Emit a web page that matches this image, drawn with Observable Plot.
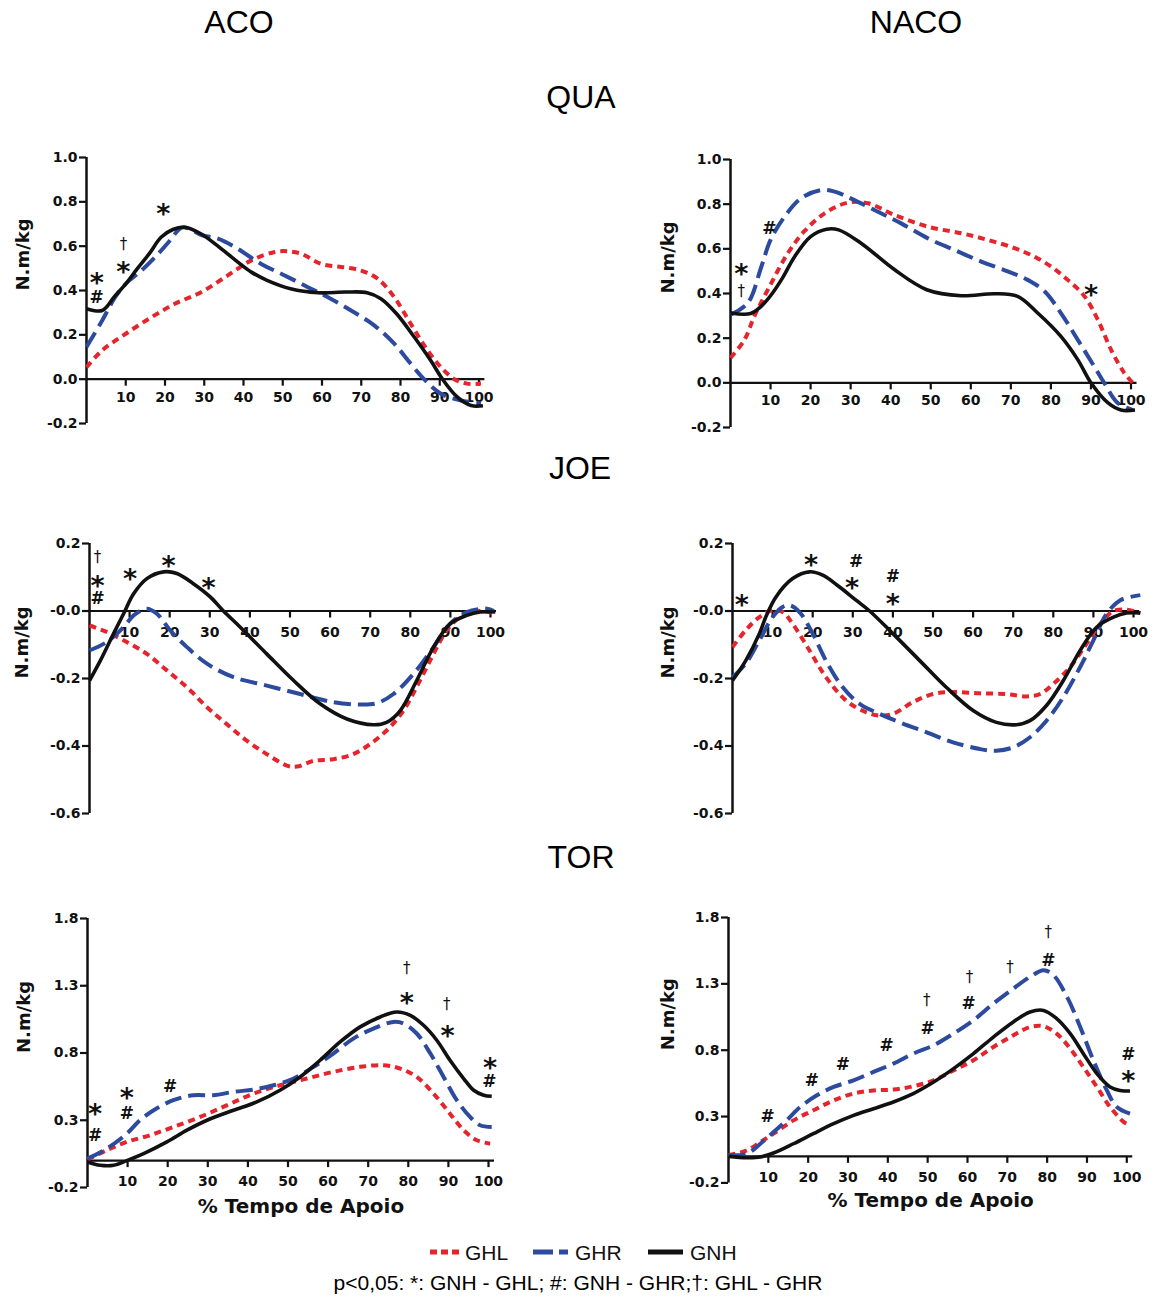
<!DOCTYPE html>
<html><head><meta charset="utf-8">
<script src="https://cdn.jsdelivr.net/npm/d3@7"></script>
<script src="https://cdn.jsdelivr.net/npm/@observablehq/plot@0.6"></script>
<style>
body{margin:0;background:#fff;}
#page{position:relative;width:1157px;height:1297px;overflow:hidden;font-family:"Liberation Sans",Arial,sans-serif;color:#000;}
.head{position:absolute;font-size:32px;transform:translate(-50%,-50%);white-space:nowrap;}
.panel{position:absolute;}
.cap{position:absolute;font-size:21px;transform:translate(-50%,-50%);white-space:nowrap;}
</style></head><body><div id="page"></div>
<script>
// ---------- data ----------
const seriesNames = ["GHL", "GHR", "GNH"];
const columnTitles = ["ACO", "NACO"];
const rowTitles = ["QUA", "JOE", "TOR"];
const xTitle = "% Tempo de Apoio";
const yTitle = "N.m/kg";
const caption = "p<0,05: *: GNH - GHL; #: GNH - GHR;†: GHL - GHR";

const xTicks = [10, 20, 30, 40, 50, 60, 70, 80, 90, 100];
const xTickLabels = ["10", "20", "30", "40", "50", "60", "70", "80", "90", "100"];
const quaTicks = [1.0, 0.8, 0.6, 0.4, 0.2, 0.0, -0.2];
const quaTickLabels = ["1.0", "0.8", "0.6", "0.4", "0.2", "0.0", "-0.2"];
const joeTicks = [0.2, 0.0, -0.2, -0.4, -0.6];
const joeTickLabels = ["0.2", "-0.0", "-0.2", "-0.4", "-0.6"];
const torTicks = [1.8, 1.3, 0.8, 0.3, -0.2];
const torTickLabels = ["1.8", "1.3", "0.8", "0.3", "-0.2"];

// ACO - QUA
const acoQuaGHL = [[0,0.054],[4,0.13],[10,0.205],[16.6,0.28],[22.5,0.34],[29.3,0.393],[36,0.468],[42,0.536],[48,0.574],[51.3,0.577],[54.7,0.566],[59.8,0.52],[65,0.506],[70,0.49],[74.2,0.453],[78.4,0.37],[82.6,0.25],[86.9,0.13],[90.3,0.054],[93.7,0.0],[97,-0.02],[100.5,-0.02]];
const acoQuaGHR = [[0,0.145],[4,0.265],[7.3,0.37],[10,0.43],[14,0.49],[18.3,0.566],[21,0.62],[24.2,0.684],[26,0.68],[29.3,0.65],[33.5,0.634],[37.8,0.596],[44.5,0.52],[50.5,0.468],[56.4,0.415],[61.5,0.37],[67.4,0.31],[73.3,0.243],[78.4,0.16],[82.6,0.07],[86,0.0],[90.3,-0.066],[95.4,-0.096],[100.5,-0.11]];
const acoQuaGNH = [[0,0.318],[4,0.31],[7,0.37],[10,0.43],[13,0.5],[16,0.566],[19,0.64],[22,0.675],[25,0.685],[29,0.657],[33.5,0.6],[38,0.536],[42,0.483],[46,0.446],[52,0.408],[59,0.39],[66,0.393],[71.5,0.39],[75,0.363],[79,0.295],[83.5,0.19],[87.7,0.084],[90.7,0.0],[94.5,-0.081],[98,-0.119],[101,-0.12]];
const acoQuaSig = [{x:2.6,y:0.46,s:"*"},{x:2.6,y:0.37,s:"#"},{x:9.4,y:0.61,s:"†"},{x:9.4,y:0.51,s:"*"},{x:19.6,y:0.77,s:"*"}];

// NACO - QUA
const nacoQuaGHL = [[0,0.112],[3.5,0.193],[6,0.3],[10,0.44],[14.3,0.58],[18.5,0.68],[23.5,0.759],[29.3,0.807],[34.3,0.804],[41,0.751],[49.3,0.699],[57.6,0.67],[64.2,0.64],[70.9,0.603],[75.9,0.565],[80,0.521],[84.2,0.461],[88.4,0.387],[91.7,0.283],[95,0.149],[98.3,0.045],[100.8,-0.007]];
const nacoQuaGHR = [[0,0.305],[4.3,0.357],[7.7,0.52],[10,0.64],[13.5,0.744],[17.6,0.826],[22.6,0.863],[26,0.856],[30,0.826],[36.8,0.766],[42.6,0.714],[49.3,0.647],[55.9,0.595],[62.6,0.543],[69.2,0.499],[74.2,0.461],[78.4,0.41],[82.5,0.3125],[86.7,0.193],[90.8,0.074],[93.3,0.0],[96.7,-0.09],[100.5,-0.122]];
const nacoQuaGNH = [[0,0.3125],[5,0.31],[7.5,0.34],[10,0.39],[13,0.47],[16,0.565],[20,0.655],[24,0.688],[27,0.685],[32.6,0.625],[41,0.506],[49,0.417],[57.6,0.39],[66,0.399],[71.7,0.387],[76.7,0.3125],[82.5,0.208],[86.7,0.104],[90,0.0],[94.2,-0.089],[97.5,-0.122],[101,-0.122]];
const nacoQuaSig = [{x:2.7,y:0.513,s:"*"},{x:2.7,y:0.41,s:"†"},{x:9.7,y:0.69,s:"#"},{x:90,y:0.417,s:"*"}];

// ACO - JOE
const acoJoeGHL = [[0,-0.043],[4.3,-0.062],[9.3,-0.092],[14.3,-0.127],[19.3,-0.176],[24.3,-0.226],[29.3,-0.285],[34.2,-0.335],[39.2,-0.384],[44.2,-0.424],[49.2,-0.458],[51.7,-0.461],[55.9,-0.444],[60.8,-0.439],[65.8,-0.424],[70,-0.394],[74.1,-0.354],[78.3,-0.295],[82.4,-0.206],[85.8,-0.127],[89.1,-0.057],[92.4,-0.018],[95.8,0.0],[100.8,-0.006]];
const acoJoeGHR = [[0,-0.117],[4.3,-0.092],[8.5,-0.048],[11,-0.013],[14.3,0.007],[16.8,-0.008],[20.1,-0.057],[24.3,-0.107],[29.3,-0.156],[35.9,-0.196],[44.2,-0.221],[52.5,-0.246],[60.8,-0.27],[67.5,-0.277],[71.7,-0.273],[75.8,-0.246],[80.8,-0.186],[85.8,-0.107],[89.9,-0.038],[94.1,-0.003],[99.1,0.007],[100.8,0.0]];
const acoJoeGNH = [[0,-0.206],[2.7,-0.147],[6,-0.067],[8.5,-0.008],[11,0.051],[14.3,0.096],[18.5,0.116],[21.8,0.111],[25.9,0.081],[30.1,0.042],[33.4,0.0],[37.6,-0.048],[44.2,-0.127],[50.9,-0.206],[57.5,-0.275],[64.2,-0.32],[70.8,-0.337],[74.1,-0.33],[77.5,-0.295],[81.6,-0.206],[85.8,-0.107],[89.9,-0.038],[94.1,-0.013],[97.4,-0.003],[101.2,-0.003]];
const acoJoeSig = [{x:2,y:0.16,s:"†"},{x:2,y:0.091,s:"*"},{x:2,y:0.037,s:"#"},{x:10.1,y:0.111,s:"*"},{x:19.7,y:0.15,s:"*"},{x:29.7,y:0.086,s:"*"}];

// NACO - JOE
const nacoJoeGHL = [[0,-0.107],[3.3,-0.057],[6.7,-0.018],[10,0.002],[12.5,-0.003],[15,-0.038],[19.2,-0.117],[23.3,-0.196],[28.3,-0.265],[33.3,-0.3],[36.7,-0.31],[40,-0.305],[45,-0.27],[50,-0.246],[55,-0.24],[61.7,-0.244],[68.3,-0.246],[73.3,-0.253],[76.7,-0.246],[80,-0.216],[84.2,-0.166],[88.3,-0.097],[91.7,-0.038],[95,0.0],[98.3,0.004],[101.7,-0.006]];
const nacoJoeGHR = [[0,-0.196],[3.3,-0.156],[6.7,-0.087],[10,-0.018],[12.5,0.012],[14.2,0.017],[16.7,-0.003],[20,-0.067],[23.3,-0.147],[27.5,-0.226],[31.7,-0.275],[36.7,-0.305],[41.7,-0.33],[48.3,-0.359],[55,-0.389],[61.7,-0.409],[65.8,-0.414],[70,-0.404],[74.2,-0.374],[78.3,-0.325],[82.5,-0.255],[86.7,-0.166],[90,-0.087],[93.3,-0.008],[96.7,0.032],[101.7,0.047]];
const nacoJoeGNH = [[0,-0.206],[3.3,-0.147],[6.7,-0.067],[8.3,-0.018],[10.8,0.041],[15,0.096],[19.2,0.116],[22.5,0.106],[26.7,0.071],[30.8,0.032],[34.2,0.0],[40,-0.067],[46.7,-0.147],[53.3,-0.226],[60,-0.295],[65.8,-0.33],[70.8,-0.337],[74.2,-0.325],[78.3,-0.28],[82.5,-0.206],[86.7,-0.117],[90.8,-0.048],[95,-0.018],[98.3,-0.006],[101.7,-0.006]];
const nacoJoeSig = [{x:2.3,y:0.034,s:"*"},{x:19.6,y:0.152,s:"*"},{x:30.8,y:0.146,s:"#"},{x:29.8,y:0.086,s:"*"},{x:40,y:0.101,s:"#"},{x:40,y:0.037,s:"*"}];

// ACO - TOR
const acoTorGHL = [[0,0.007],[4.8,0.077],[9.8,0.139],[15.6,0.189],[21.4,0.25],[28.1,0.325],[34.7,0.411],[41.4,0.498],[48,0.56],[54.7,0.61],[61.3,0.66],[68,0.697],[73.8,0.709],[78,0.684],[82.1,0.622],[86.3,0.498],[90.4,0.349],[93.8,0.226],[97.1,0.151],[100.4,0.126]];
const acoTorGHR = [[0,0.015],[4.8,0.089],[9.8,0.2],[13.1,0.3],[16.5,0.374],[21.4,0.449],[26.4,0.486],[31.4,0.486],[36.4,0.511],[41.4,0.528],[46.4,0.56],[51.4,0.61],[56.4,0.697],[61.3,0.796],[66.3,0.907],[71.3,0.981],[76.3,1.031],[78.8,1.019],[82.1,0.945],[85.5,0.796],[88.8,0.622],[92.1,0.449],[95.4,0.325],[97.9,0.263],[100.8,0.25]];
const acoTorGNH = [[0,-0.01],[3.2,-0.035],[6.5,-0.035],[9.8,0.0],[14,0.052],[19.8,0.139],[24.8,0.226],[29.8,0.3],[36.4,0.374],[42.2,0.436],[48,0.523],[53,0.622],[58,0.746],[63,0.882],[68,0.994],[73,1.068],[77.1,1.105],[80.5,1.08],[83.8,1.006],[87.1,0.895],[90.4,0.746],[93.8,0.61],[96.3,0.523],[98.8,0.486],[100.8,0.478]];
const acoTorSig = [{x:1.9,y:0.387,s:"*"},{x:1.9,y:0.188,s:"#"},{x:9.8,y:0.511,s:"*"},{x:9.8,y:0.35,s:"#"},{x:20.6,y:0.548,s:"#"},{x:79.6,y:1.428,s:"†"},{x:79.6,y:1.217,s:"*"},{x:89.6,y:1.16,s:"†"},{x:89.8,y:0.97,s:"*"},{x:100.4,y:0.73,s:"*"},{x:100.2,y:0.59,s:"#"}];

// NACO - TOR
const nacoTorGHL = [[0,0.008],[4.6,0.045],[8,0.108],[11.3,0.171],[16.3,0.271],[21.3,0.347],[26.4,0.422],[31.4,0.473],[36.4,0.497],[41.4,0.503],[46.4,0.528],[51.5,0.573],[56.5,0.648],[61.5,0.724],[66.5,0.824],[71.5,0.912],[75.7,0.975],[79.1,0.98],[82.4,0.925],[85.8,0.812],[89.1,0.673],[92.5,0.523],[95.8,0.372],[99.2,0.26],[100,0.246]];
const nacoTorGHR = [[0,0.008],[4.6,0.02],[8,0.095],[11.3,0.183],[14.6,0.271],[18,0.372],[22.2,0.46],[26.4,0.523],[31.4,0.573],[36.4,0.636],[41.4,0.699],[46.4,0.774],[51.5,0.837],[56.5,0.925],[61.5,1.025],[66.5,1.151],[71.5,1.264],[75.7,1.352],[79.1,1.403],[81.6,1.365],[85,1.201],[88.3,0.975],[91.6,0.724],[95,0.497],[97.5,0.372],[100.8,0.322]];
const nacoTorGNH = [[0,0.0],[4.6,-0.01],[8,-0.005],[11.3,0.025],[16.3,0.095],[21.3,0.171],[26.4,0.246],[31.4,0.309],[36.4,0.359],[41.4,0.41],[46.4,0.473],[51.5,0.56],[56.5,0.661],[61.5,0.774],[66.5,0.899],[71.5,1.013],[75.7,1.088],[79.1,1.1],[82.4,1.038],[85.8,0.925],[89.1,0.774],[92.5,0.623],[95.8,0.523],[98.3,0.497],[100.8,0.492]];
const nacoTorSig = [{x:9.8,y:0.301,s:"#"},{x:20.9,y:0.573,s:"#"},{x:28.7,y:0.693,s:"#"},{x:39.7,y:0.837,s:"#"},{x:49.8,y:1.176,s:"†"},{x:50,y:0.962,s:"#"},{x:60.5,y:1.352,s:"†"},{x:60.3,y:1.151,s:"#"},{x:70.7,y:1.427,s:"†"},{x:80.3,y:1.69,s:"†"},{x:80.3,y:1.477,s:"#"},{x:100.4,y:0.769,s:"#"},{x:100.4,y:0.61,s:"*"}];

// ---------- styles ----------
const seriesStyle = {
  GHL: {stroke: "#e5242b", strokeWidth: 4, dash: "7,5"},
  GHR: {stroke: "#2c4a9e", strokeWidth: 4, dash: "17,7"},
  GNH: {stroke: "#111111", strokeWidth: 3.6, dash: null}
};
const boldFont = "DejaVu Sans, Verdana, sans-serif";

// ---------- layout ----------
const panels = [
  {frameX:[85.5,478], frameY:[157,423], yDomain:[-0.2,1.0], ticks:quaTicks, labels:quaTickLabels, dy:18, ylabX:22.5, data:{GHL:acoQuaGHL,GHR:acoQuaGHR,GNH:acoQuaGNH}, sig:acoQuaSig},
  {frameX:[729.5,1130], frameY:[159.3,427.3], yDomain:[-0.2,1.0], ticks:quaTicks, labels:quaTickLabels, dy:18, ylabX:667, data:{GHL:nacoQuaGHL,GHR:nacoQuaGHR,GNH:nacoQuaGNH}, sig:nacoQuaSig},
  {frameX:[89.3,490.3], frameY:[542.7,812.7], yDomain:[-0.6,0.2], ticks:joeTicks, labels:joeTickLabels, dy:22, ylabX:22.5, data:{GHL:acoJoeGHL,GHR:acoJoeGHR,GNH:acoJoeGNH}, sig:acoJoeSig},
  {frameX:[732,1133], frameY:[542.7,812.7], yDomain:[-0.6,0.2], ticks:joeTicks, labels:joeTickLabels, dy:22, ylabX:668, data:{GHL:nacoJoeGHL,GHR:nacoJoeGHR,GNH:nacoJoeGNH}, sig:nacoJoeSig},
  {frameX:[87.3,488.3], frameY:[918.3,1187.3], yDomain:[-0.2,1.8], ticks:torTicks, labels:torTickLabels, dy:21, ylabX:24, data:{GHL:acoTorGHL,GHR:acoTorGHR,GNH:acoTorGNH}, sig:acoTorSig, xt:{dx:13, dy:25}},
  {frameX:[728.3,1126.6], frameY:[917.3,1182.7], yDomain:[-0.2,1.8], ticks:torTicks, labels:torTickLabels, dy:21, ylabX:668, data:{GHL:nacoTorGHL,GHR:nacoTorGHR,GNH:nacoTorGNH}, sig:nacoTorSig, xt:{dx:3, dy:24}}
];

const page = document.getElementById("page");

function addDiv(cls, text, x, y) {
  const d = document.createElement("div");
  d.className = cls; d.textContent = text;
  d.style.left = x + "px"; d.style.top = y + "px";
  page.appendChild(d);
}
addDiv("head", columnTitles[0], 239, 22);
addDiv("head", columnTitles[1], 916, 22);
addDiv("head", rowTitles[0], 581, 97);
addDiv("head", rowTitles[1], 580, 468);
addDiv("head", rowTitles[2], 581, 857);

for (const p of panels) {
  const ml = 85, mr = 40, mt = 35, mb = 55;
  const [fx0, fx1] = p.frameX, [fy0, fy1] = p.frameY;
  const width = fx1 - fx0 + ml + mr;
  const height = fy1 - fy0 + mt + mb;
  const marks = [
    Plot.text(xTicks, {x: d => d, y: 0, dy: p.dy, text: (d, i) => xTickLabels[i], fontSize: 14, fontWeight: "bold", fontFamily: boldFont, fill: "#111"}),
    Plot.ruleY([0], {x1: 0, x2: 101.5, stroke: "#111", strokeWidth: 2.2}),
    Plot.ruleX(xTicks, {x: d => d, y1: 0, y2: 0, insetBottom: -7, stroke: "#111", strokeWidth: 2.2}),
    Plot.ruleX([0], {y1: p.yDomain[0], y2: p.yDomain[1], stroke: "#111", strokeWidth: 2.5}),
    Plot.axisY(p.ticks, {tickSize: 7, tickPadding: 2, strokeWidth: 2.2, stroke: "#111", tickFormat: d => p.labels[p.ticks.indexOf(d)], fontSize: 14, fontWeight: "bold", fontFamily: boldFont, label: null}),
    Plot.text([yTitle], {frameAnchor: "left", rotate: -90, dx: p.ylabX - fx0, fontSize: 18, fontWeight: "bold", fontFamily: boldFont, fill: "#111"})
  ];
  if (p.xt) marks.push(Plot.text([xTitle], {frameAnchor: "bottom", dx: p.xt.dx, dy: p.xt.dy, fontSize: 20, fontWeight: "bold", fontFamily: boldFont, fill: "#111"}));
  for (const name of seriesNames) {
    const st = seriesStyle[name];
    marks.push(Plot.line(p.data[name], {x: d => d[0], y: d => d[1], stroke: st.stroke, strokeWidth: st.strokeWidth, strokeDasharray: st.dash, curve: "catmull-rom", strokeLinecap: "butt", strokeLinejoin: "round"}));
  }
  marks.push(Plot.text(p.sig, {filter: d => d.s === "*", x: "x", y: "y", text: "s", dy: 6, fontSize: 27, fontWeight: "bold", fontFamily: boldFont, fill: "#111"}));
  marks.push(Plot.text(p.sig, {filter: d => d.s === "#", x: "x", y: "y", text: "s", fontSize: 17, fontWeight: "bold", fontFamily: boldFont, fill: "#111"}));
  marks.push(Plot.text(p.sig, {filter: d => d.s === "†", x: "x", y: "y", text: "s", fontSize: 15, fontWeight: "normal", fontFamily: boldFont, fill: "#111"}));

  const svg = Plot.plot({
    width, height, marginLeft: ml, marginRight: mr, marginTop: mt, marginBottom: mb,
    x: {domain: [0, 100], axis: null},
    y: {domain: p.yDomain, axis: null},
    style: {background: "none", overflow: "visible", fontFamily: boldFont, fontWeight: "bold", fontSize: "14px", color: "#111"},
    marks
  });
  svg.classList.add("panel");
  svg.style.left = (fx0 - ml) + "px";
  svg.style.top = (fy0 - mt) + "px";
  svg.style.position = "absolute";
  page.appendChild(svg);
}

// ---------- legend ----------
const legendPos = [{sx: 430, len: 29, tx: 465}, {sx: 533, len: 35, tx: 575}, {sx: 648, len: 35, tx: 690}];
const legendDash = {GHL: "7,4", GHR: "20,6", GNH: null};
const lg = d3.select(page).append("svg")
  .attr("width", 1157).attr("height", 40)
  .style("position", "absolute").style("left", "0px").style("top", "1232px");
seriesNames.forEach((name, i) => {
  const st = seriesStyle[name], pos = legendPos[i];
  lg.append("line").attr("x1", pos.sx).attr("x2", pos.sx + pos.len).attr("y1", 20).attr("y2", 20)
    .attr("stroke", st.stroke).attr("stroke-width", 5).attr("stroke-dasharray", legendDash[name]);
  lg.append("text").attr("x", pos.tx).attr("y", 20).attr("dy", "0.36em")
    .attr("font-family", "Liberation Sans, Arial, sans-serif").attr("font-size", 21).attr("fill", "#111").text(name);
});
addDiv("cap", caption, 578, 1283);
</script></body></html>
